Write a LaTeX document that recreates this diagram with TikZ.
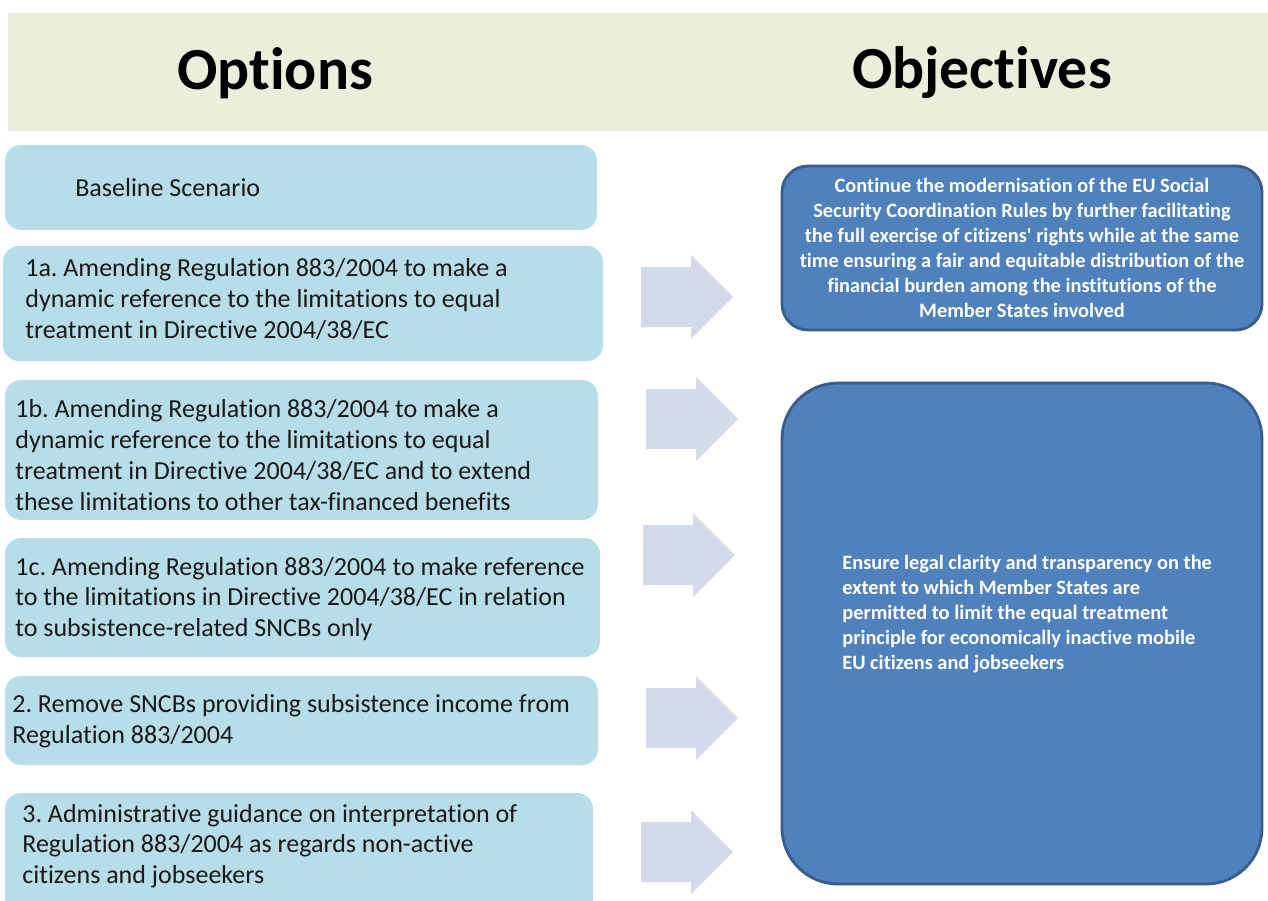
\documentclass[tikz,border=0pt]{standalone}
\usepackage{fontspec}
\setmainfont{Carlito}[Ligatures={TeXOff,NoCommon}]
\usetikzlibrary{calc}
\definecolor{hdr}{RGB}{234,239,220}
\definecolor{optfill}{RGB}{183,221,232}
\definecolor{arrfill}{RGB}{212,218,233}
\definecolor{objfill}{RGB}{79,129,189}
\definecolor{objline}{RGB}{56,93,138}
\definecolor{opttext}{RGB}{25,25,25}
\tikzset{
  optbox/.style={fill=optfill, rounded corners=16*0.02cm},
  opttxt/.style={anchor=west, align=left, inner sep=0pt, text=opttext,
    font=\fontsize{14.8}{17.5}\selectfont},
  objbox/.style={fill=objfill, draw=objline, line width=1.6pt},
  objtxt/.style={inner sep=0pt, text=white, font=\fontsize{11.6}{14.2}\selectfont\bfseries},
  hdrtxt/.style={inner sep=0pt, font=\fontsize{34}{38}\selectfont\bfseries},
  blockarrow/.style={fill=arrfill}
}
\newcommand{\blockarr}[3]{% name, left x, center y
  \coordinate (#1) at (#2,#3);
  \fill[blockarrow] ($(#1)+(0,-30)$) -- ($(#1)+(50,-30)$) -- ($(#1)+(50,-42)$) -- ($(#1)+(92,0)$)
    -- ($(#1)+(50,42)$) -- ($(#1)+(50,30)$) -- ($(#1)+(0,30)$) -- cycle;
}
\begin{document}
\frenchspacing
\begin{tikzpicture}[x=0.02cm,y=-0.02cm]
\useasboundingbox (0,0) rectangle (1268,900);
% header
\fill[hdr] (8,13) rectangle (1268,131);
\node[hdrtxt] (hopt) at (275,73) {Options};
\node[hdrtxt] (hobj) at (982,73) {Objectives};
% option boxes
\fill[optbox] (5,145) rectangle (597,230);
\node[opttxt] (o0) at (75,188) {Baseline Scenario};
\fill[optbox] (3,246) rectangle (603,361);
\node[opttxt] (o1a) at (25,299) {1a. Amending Regulation 883/2004 to make a\\dynamic reference to the limitations to equal\\treatment in Directive 2004/38/EC};
\fill[optbox] (5,380) rectangle (598,520);
\node[opttxt] (o1b) at (15,455) {1b. Amending Regulation 883/2004 to make a\\dynamic reference to the limitations to equal\\treatment in Directive 2004/38/EC and to extend\\these limitations to other tax-financed benefits};
\fill[optbox] (5,538) rectangle (600,657);
\node[opttxt] (o1c) at (15,599) {1c. Amending Regulation 883/2004 to make reference\\to the limitations in Directive 2004/38/EC in relation\\to subsistence-related SNCBs only};
\fill[optbox] (5,676) rectangle (598,765);
\node[opttxt] (o2) at (12,721) {2. Remove SNCBs providing subsistence income from\\Regulation 883/2004};
\fill[optbox] (5,793) rectangle (593,915);
\node[opttxt] (o3) at (22,846) {3. Administrative guidance on interpretation of\\Regulation 883/2004 as regards non-active\\citizens and jobseekers};
% arrows
\blockarr{a1}{641}{297}
\blockarr{a2}{646}{419}
\blockarr{a3}{643}{555}
\blockarr{a4}{646}{718}
\blockarr{a5}{641}{852}
% objectives
\draw[objbox, rounded corners=26*0.02cm] (782,166) rectangle (1262,330);
\node[objtxt, align=center] (ob1) at (1022,248) {Continue the modernisation of the EU Social\\Security Coordination Rules by further facilitating\\the full exercise of citizens' rights while at the same\\time ensuring a fair and equitable distribution of the\\financial burden among the institutions of the\\Member States involved};
\draw[objbox, rounded corners=56*0.02cm] (782,383) rectangle (1262,884);
\node[objtxt, align=left, anchor=west] (ob2) at (842,614) {Ensure legal clarity and transparency on the\\extent to which Member States are\\permitted to limit the equal treatment\\principle for economically inactive mobile\\EU citizens and jobseekers};
\end{tikzpicture}
\end{document}
